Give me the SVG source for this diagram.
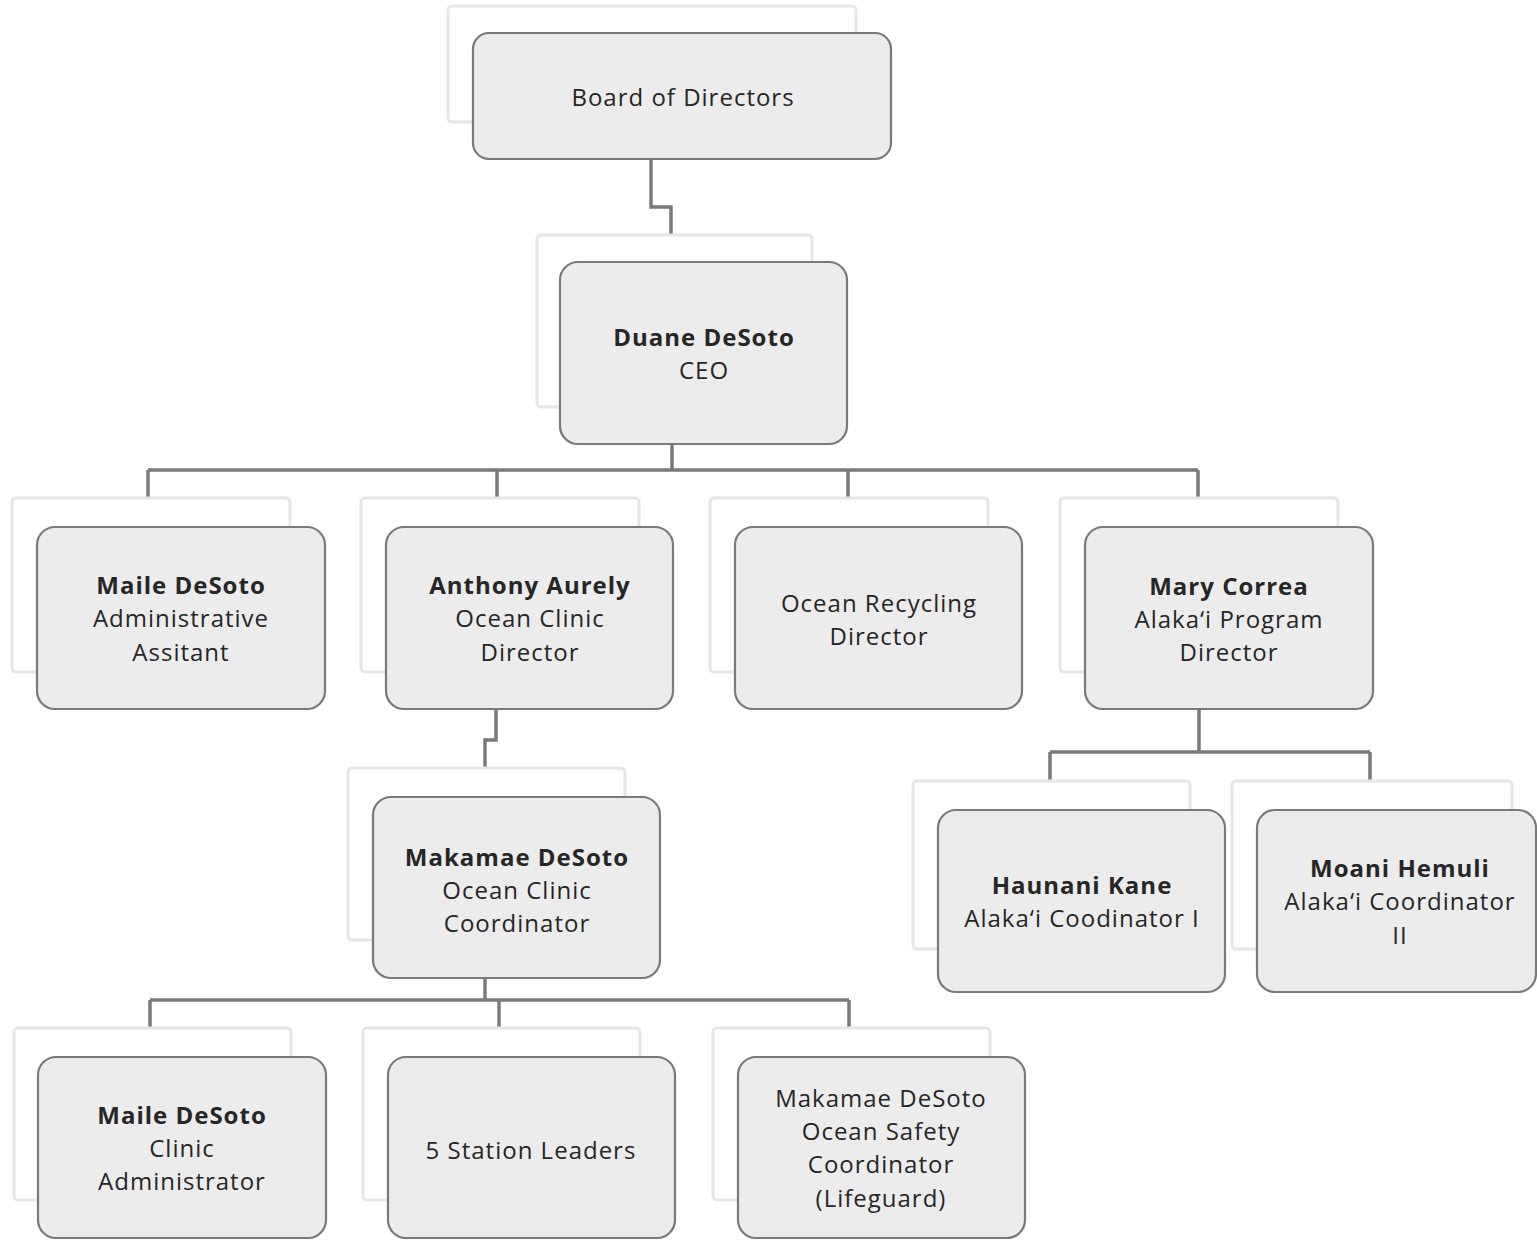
<svg xmlns="http://www.w3.org/2000/svg" width="1537" height="1241" viewBox="0 0 1537 1241">
<style>
.bg{fill:#ffffff}
.sh{fill:#ffffff;stroke:#e6e6e6;stroke-width:3}
.bx{fill:#ececec;stroke:#7a7a7a;stroke-width:2.2}
.cn{fill:none;stroke:#7a7a7a;stroke-width:3.5;stroke-linejoin:miter}
text{font-family:"Open Sans","Noto Sans","Liberation Sans",sans-serif;font-size:24px;letter-spacing:1px;fill:#262626;text-anchor:middle}
.b{font-weight:bold}
</style>
<rect class="bg" x="0" y="0" width="1537" height="1241"/>
<g id="connectors">
<path class="cn" d="M651 160 V207 H671 V236"/>
<path class="cn" d="M672 444 V470 M148 470 H1198 M148 470 V497 M497 470 V497 M848 470 V497 M1198 470 V497"/>
<path class="cn" d="M496 710 V740 H485 V768"/>
<path class="cn" d="M485 978 V1000 M150 1000 H849 M150 1000 V1028 M499 1000 V1028 M849 1000 V1028"/>
<path class="cn" d="M1199 709 V752 M1050 752 H1370 M1050 752 V781 M1370 752 V781"/>
</g>
<g id="board">
<rect class="sh" x="448" y="6" width="408" height="116" rx="4"/>
<rect class="bx" x="473" y="33" width="418" height="126" rx="16"/>
<text x="683" y="106">Board of Directors</text>
</g>
<g id="duane">
<rect class="sh" x="537" y="235" width="275" height="172" rx="4"/>
<rect class="bx" x="560" y="262" width="287" height="182" rx="18"/>
<text class="b" x="704" y="346">Duane DeSoto</text>
<text x="704" y="379">CEO</text>
</g>
<g id="maile-admin">
<rect class="sh" x="12" y="498" width="278" height="174" rx="4"/>
<rect class="bx" x="37" y="527" width="288" height="182" rx="18"/>
<text class="b" x="181" y="594">Maile DeSoto</text>
<text x="181" y="627">Administrative</text>
<text x="181" y="661">Assitant</text>
</g>
<g id="anthony">
<rect class="sh" x="361" y="498" width="278" height="174" rx="4"/>
<rect class="bx" x="386" y="527" width="287" height="182" rx="18"/>
<text class="b" x="530" y="594">Anthony Aurely</text>
<text x="530" y="627">Ocean Clinic</text>
<text x="530" y="661">Director</text>
</g>
<g id="recycling">
<rect class="sh" x="710" y="498" width="278" height="174" rx="4"/>
<rect class="bx" x="735" y="527" width="287" height="182" rx="18"/>
<text x="879" y="612">Ocean Recycling</text>
<text x="879" y="645">Director</text>
</g>
<g id="mary">
<rect class="sh" x="1060" y="498" width="278" height="174" rx="4"/>
<rect class="bx" x="1085" y="527" width="288" height="182" rx="18"/>
<text class="b" x="1229" y="595">Mary Correa</text>
<text x="1229" y="628">Alaka‘i Program</text>
<text x="1229" y="661">Director</text>
</g>
<g id="makamae-coord">
<rect class="sh" x="348" y="768" width="277" height="172" rx="4"/>
<rect class="bx" x="373" y="797" width="287" height="181" rx="18"/>
<text class="b" x="517" y="866">Makamae DeSoto</text>
<text x="517" y="899">Ocean Clinic</text>
<text x="517" y="932">Coordinator</text>
</g>
<g id="haunani">
<rect class="sh" x="913" y="781" width="277" height="168" rx="4"/>
<rect class="bx" x="938" y="810" width="287" height="182" rx="18"/>
<text class="b" x="1082" y="894">Haunani Kane</text>
<text x="1082" y="927">Alaka‘i Coodinator I</text>
</g>
<g id="moani">
<rect class="sh" x="1232" y="781" width="280" height="168" rx="4"/>
<rect class="bx" x="1257" y="810" width="279" height="182" rx="18"/>
<text class="b" x="1400" y="877">Moani Hemuli</text>
<text x="1400" y="910">Alaka‘i Coordinator</text>
<text x="1400" y="944">II</text>
</g>
<g id="maile-clinic">
<rect class="sh" x="14" y="1028" width="277" height="172" rx="4"/>
<rect class="bx" x="38" y="1057" width="288" height="181" rx="18"/>
<text class="b" x="182" y="1124">Maile DeSoto</text>
<text x="182" y="1157">Clinic</text>
<text x="182" y="1190">Administrator</text>
</g>
<g id="station-leaders">
<rect class="sh" x="363" y="1028" width="277" height="172" rx="4"/>
<rect class="bx" x="388" y="1057" width="287" height="181" rx="18"/>
<text x="531" y="1159">5 Station Leaders</text>
</g>
<g id="makamae-safety">
<rect class="sh" x="713" y="1028" width="277" height="172" rx="4"/>
<rect class="bx" x="738" y="1057" width="287" height="181" rx="18"/>
<text x="881" y="1107">Makamae DeSoto</text>
<text x="881" y="1140">Ocean Safety</text>
<text x="881" y="1173">Coordinator</text>
<text x="881" y="1207">(Lifeguard)</text>
</g>
</svg>
